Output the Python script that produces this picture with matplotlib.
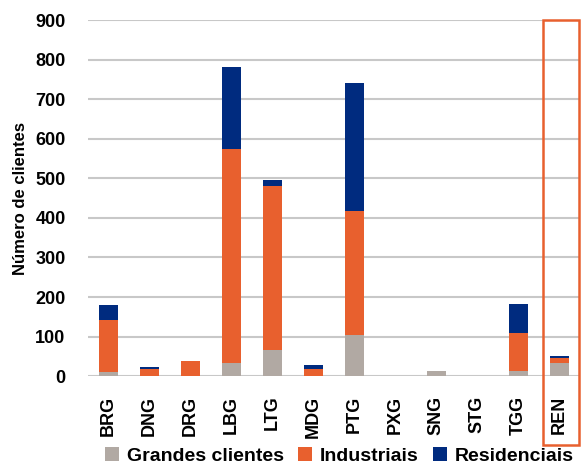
import matplotlib
matplotlib.use('Agg')
import matplotlib.pyplot as plt
from matplotlib.patches import Rectangle
import numpy as np

plt.rcParams['font.family'] = ['Liberation Sans', 'DejaVu Sans']
plt.rcParams['font.weight'] = 'bold'

centros = ['BRG', 'DNG', 'DRG', 'LBG', 'LTG', 'MDG', 'PTG', 'PXG', 'SNG', 'STG', 'TGG', 'REN']
grandes = [10, 0, 0, 33, 65, 0, 103, 0, 13, 0, 13, 33]
industriais = [131, 18, 38, 541, 415, 19, 314, 0, 0, 0, 96, 14]
residenciais = [38, 4, 0, 208, 15, 9, 323, 0, 0, 0, 73, 4]

cor_g = '#B1A9A3'
cor_i = '#E8602E'
cor_r = '#002B7F'

fig = plt.figure(figsize=(5.81, 4.69), dpi=100)
ax = fig.add_axes([0.151, 0.198, 0.847, 0.759])

x = np.arange(len(centros))
g = np.array(grandes)
i = np.array(industriais)
r = np.array(residenciais)
w = 0.46
ax.bar(x, g, w, color=cor_g, label='Grandes clientes', zorder=3)
ax.bar(x, i, w, bottom=g, color=cor_i, label='Industriais', zorder=3)
ax.bar(x, r, w, bottom=g + i, color=cor_r, label='Residenciais', zorder=3)

ax.set_ylim(0, 900)
ax.set_xlim(-0.5, len(centros) - 0.5)
ax.set_yticks(range(0, 1000, 100))
ax.yaxis.grid(True, color='#C8C8C8', linewidth=1.5, zorder=0)
ax.set_axisbelow(True)
for s in ax.spines.values():
    s.set_visible(False)
ax.tick_params(length=0)
ax.tick_params(axis='y', labelsize=13, pad=16)
ax.set_xticks(x)
ax.set_xticklabels(centros, rotation=90, fontsize=13, fontweight='bold')
ax.tick_params(axis='x', pad=14)
for lbl in ax.get_yticklabels():
    lbl.set_fontweight('bold')
ax.set_ylabel('Número de clientes', fontsize=12, fontweight='bold', labelpad=5)

# destaque da REN
ax.add_patch(Rectangle((10.6, -174), 0.89, 1074, fill=False, edgecolor='#E8602E',
                       linewidth=1.8, clip_on=False, zorder=4))

ax.legend(loc='upper left', bbox_to_anchor=(0.02, -0.178), ncol=3, frameon=False,
          fontsize=14, handlelength=0.7, handleheight=0.7, handletextpad=0.4,
          columnspacing=0.75, borderaxespad=0)

fig.savefig('out.png', dpi=100)
